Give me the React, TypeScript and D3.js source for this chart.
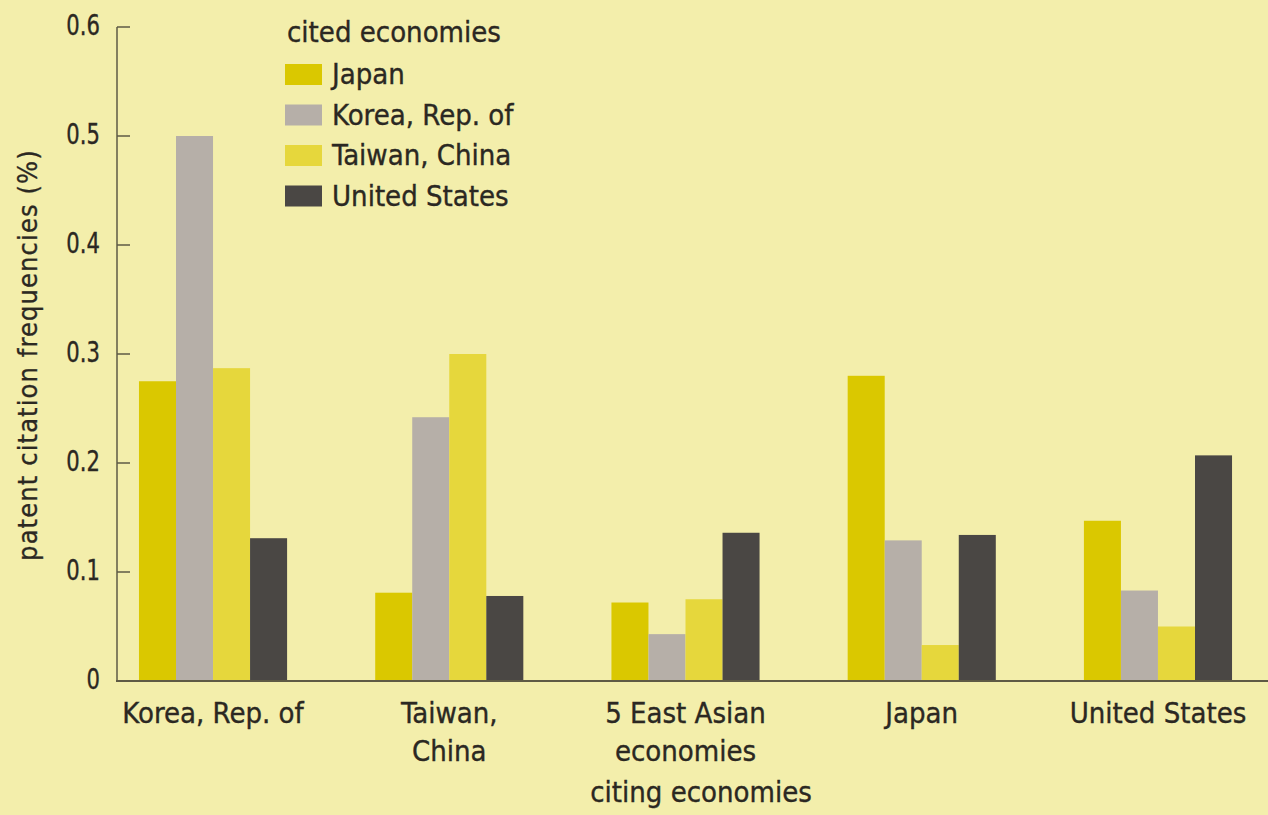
import React from "react";
import * as d3 from "d3";

const categories: string[][] = [
  ["Korea, Rep. of"],
  ["Taiwan,", "China"],
  ["5 East Asian", "economies"],
  ["Japan"],
  ["United States"],
];
const seriesNames = ["Japan", "Korea, Rep. of", "Taiwan, China", "United States"];
const japanValues = [0.275, 0.081, 0.072, 0.28, 0.147];
const koreaValues = [0.5, 0.242, 0.043, 0.129, 0.083];
const taiwanValues = [0.287, 0.3, 0.075, 0.033, 0.05];
const usValues = [0.131, 0.078, 0.136, 0.134, 0.207];
const yTicks = [0, 0.1, 0.2, 0.3, 0.4, 0.5, 0.6];
const colors = ["#dac800", "#b6afa8", "#e6d73c", "#4a4744"];

const W = 1268;
const H = 815;
const BG = "#f3eeab";
const INK = "#2b2822";
const FONT = "'DejaVu Sans Condensed', 'DejaVu Sans', sans-serif";

type TxtProps = {
  x: number;
  y: number;
  anchor?: "start" | "middle" | "end";
  size?: number;
  sx?: number;
  children: React.ReactNode;
};
function Txt({ x, y, anchor = "start", size = 29, sx = 1, children }: TxtProps) {
  return (
    <g transform={`translate(${x},${y}) scale(${sx},1)`}>
      <text
        x={0}
        y={0}
        textAnchor={anchor}
        fontSize={size}
        fill={INK}
        stroke={INK}
        strokeWidth={0.35}
      >
        {children}
      </text>
    </g>
  );
}

export default function App() {
  const series = [japanValues, koreaValues, taiwanValues, usValues];
  const x0 = d3
    .scaleBand<number>()
    .domain(d3.range(categories.length))
    .range([117, 1254])
    .paddingInner(0.373)
    .paddingOuter(0.093);
  const x1 = d3
    .scaleBand<number>()
    .domain(d3.range(seriesNames.length))
    .range([0, x0.bandwidth()]);
  const y = d3.scaleLinear().domain([0, 0.6]).range([681, 27]);
  const fmt = (v: number) => (v === 0 ? "0" : d3.format(".1f")(v));

  return (
    <div style={{ position: "absolute", left: 0, top: 0, width: W, height: H, background: BG }}>
      <svg width={W} height={H} style={{ display: "block", fontFamily: FONT }}>
        <rect x={0} y={0} width={W} height={H} fill={BG} />
        {/* bars */}
        {categories.map((_, ci) => (
          <g key={ci} transform={`translate(${x0(ci)},0)`}>
            {series.map((vals, si) => (
              <rect
                key={si}
                x={x1(si)}
                y={y(vals[ci])}
                width={x1.bandwidth()}
                height={y(0) - y(vals[ci])}
                fill={colors[si]}
              />
            ))}
          </g>
        ))}
        {/* axes */}
        <line x1={117} x2={117} y1={y(0.6)} y2={y(0)} stroke="#5e5a44" strokeWidth={1.5} />
        <line x1={116} x2={W} y1={y(0)} y2={y(0)} stroke="#5e5a44" strokeWidth={1.8} />
        {yTicks.map((t) => (
          <g key={t}>
            {t > 0 && (
              <line x1={117} x2={130} y1={y(t)} y2={y(t)} stroke="#5e5a44" strokeWidth={1.5} />
            )}
            <Txt x={100} y={y(t) + 8} anchor="end" size={28} sx={0.84}>
              {fmt(t)}
            </Txt>
          </g>
        ))}
        {/* category labels */}
        {categories.map((lines, ci) =>
          lines.map((l, li) => (
            <Txt
              key={`${ci}-${li}`}
              x={(x0(ci) as number) + x0.bandwidth() / 2}
              y={723 + li * 38}
              anchor="middle"
            >
              {l}
            </Txt>
          ))
        )}
        <Txt x={701} y={802} anchor="middle">
          citing economies
        </Txt>
        {/* y axis title */}
        <g transform="translate(37,355) rotate(-90)">
          <text
            x={0}
            y={0}
            textAnchor="middle"
            fontSize={27}
            letterSpacing={1.1}
            fill={INK}
            stroke={INK}
            strokeWidth={0.3}
          >
            patent citation frequencies (%)
          </text>
        </g>
        {/* legend */}
        <Txt x={287} y={42}>cited economies</Txt>
        {seriesNames.map((n, i) => {
          const base = 84 + i * 40.5;
          return (
            <g key={n}>
              <rect x={285} y={base - 20} width={37} height={21} fill={colors[i]} />
              <Txt x={332} y={base}>{n}</Txt>
            </g>
          );
        })}
      </svg>
    </div>
  );
}
